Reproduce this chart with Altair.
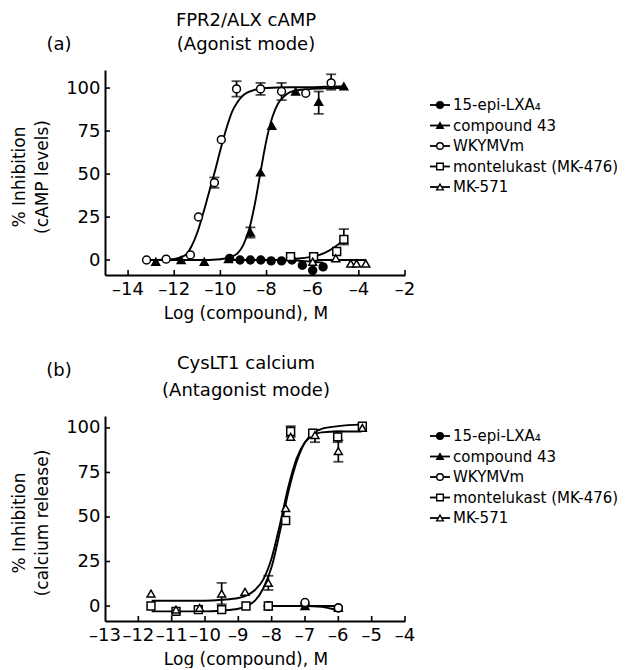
import altair as alt
import pandas as pd

FONT = "DejaVu Sans"
SERIES = ["15-epi-LXA₄", "compound 43", "WKYMVm", "montelukast (MK-476)", "MK-571"]
SHAPES = ["circle", "triangle-up", "circle", "square", "triangle-up"]
FILLS = ["black", "black", "white", "white", "white"]
Y_TICKS = [0, 25, 50, 75, 100]

# ---------------- panel (a): FPR2/ALX cAMP ----------------
A_XTICKS = [-14, -12, -10, -8, -6, -4, -2]
A_XDOM = [-15, -2]
A_YDOM = [-8.7, 110.5]

a_lxa_x = [-9.6, -9.15, -8.7, -8.25, -7.8, -7.35, -6.9, -6.45, -6.0, -5.55]
a_lxa_y = [1, 0, 0, 0, -0.5, -0.5, 0, -3, -6, -4]
a_c43_x = [-12.8, -11.7, -10.7, -9.65, -8.7, -8.26, -7.77, -6.74, -5.74, -4.65]
a_c43_y = [-1, 0, -1, 0.5, 16, 51, 78, 98, 92, 101]
a_wky_x = [-13.2, -12.35, -11.3, -10.95, -10.26, -9.96, -9.3, -8.26, -7.35, -6.3, -5.2]
a_wky_y = [0, 0.5, 3, 25, 45, 70, 99.5, 99.5, 98, 97, 103]
a_mon_x = [-6.96, -5.96, -4.96, -4.65]
a_mon_y = [2, 2, 5, 12]
a_mk_x = [-6.0, -5.0, -4.35, -4.1, -3.7]
a_mk_y = [-1, 1, -2, -2, -2]

# error bars (series, x, low, high)
a_err_s = ["WKYMVm", "WKYMVm", "WKYMVm", "WKYMVm", "WKYMVm", "compound 43", "compound 43", "montelukast (MK-476)"]
a_err_x = [-10.26, -9.3, -8.26, -7.35, -5.2, -8.7, -5.74, -4.65]
a_err_lo = [42, 95, 96, 93, 99, 13, 85, 9]
a_err_hi = [48, 104, 103, 103, 108, 19, 98, 18]

# fitted curves
a_cwky_x = [-13.2, -12.5, -12, -11.5, -11.25, -11, -10.75, -10.5, -10.25, -10, -9.75, -9.5, -9.25, -9, -8.5, -8, -7, -6, -5, -4.65]
a_cwky_y = [0, 0.2, 0.7, 3, 8, 16, 27, 39, 51, 64, 76, 86, 92, 96, 99, 100, 100.5, 100.5, 101, 101]
a_cc43_x = [-12.8, -12, -11, -10, -9.5, -9.25, -9, -8.75, -8.5, -8.25, -8, -7.75, -7.5, -7.25, -7, -6.5, -6, -5, -4.65]
a_cc43_y = [0, 0, 0, 0.5, 2, 4, 9, 18, 33, 52, 70, 83, 91, 95, 97.5, 99, 99.5, 100, 100]
a_clxa_x = [-9.6, -7.5, -6.5, -6.0, -5.55]
a_clxa_y = [0, 0, -0.5, -1, -1.5]
a_cmon_x = [-7.0, -6.5, -6.0, -5.5, -5.0, -4.65]
a_cmon_y = [0.5, 1, 2, 4, 8, 12]
a_cmk_x = [-6.0, -3.7]
a_cmk_y = [0, 0]

# ---------------- panel (b): CysLT1 calcium ----------------
B_XTICKS = [-13, -12, -11, -10, -9, -8, -7, -6, -5, -4]
B_XDOM = [-13, -4]
B_YDOM = [-8.4, 106.7]

b_lxa_x = [-8.1, -7.0, -6.0]
b_lxa_y = [0, 1, -1]
b_c43_x = [-8.1, -7.0, -6.0]
b_c43_y = [0, 0, -1]
b_wky_x = [-8.1, -7.0, -6.0]
b_wky_y = [0, 2, -1]
b_mon_x = [-11.62, -10.87, -10.2, -9.5, -8.77, -8.1, -7.58, -7.43, -6.77, -6.02, -5.28]
b_mon_y = [0, -3, -2, -2, 0, 0, 48, 98, 97, 95, 101]
b_mk_x = [-11.62, -10.87, -10.16, -9.5, -8.8, -8.1, -7.58, -7.43, -6.7, -6.0, -5.28]
b_mk_y = [7, -2, -1, 7, 8, 13, 55, 95, 96, 87, 100]

b_err_s = ["MK-571", "MK-571", "MK-571", "MK-571", "montelukast (MK-476)", "montelukast (MK-476)"]
b_err_x = [-9.5, -8.1, -6.7, -6.0, -7.43, -6.02]
b_err_lo = [1, 9, 92, 81, 95, 92]
b_err_hi = [13, 17, 99, 93, 101, 98]

b_cmk_x = [-11.6, -11, -10, -9.5, -9, -8.75, -8.5, -8.25, -8, -7.75, -7.5, -7.25, -7, -6.75, -6.5, -6, -5.3]
b_cmk_y = [3, 3, 3, 3.5, 4.5, 6, 9, 15, 27, 46, 67, 83, 92, 96, 97.5, 98, 98]
b_cmon_x = [-11.6, -11, -10, -9.5, -9, -8.75, -8.5, -8.25, -8, -7.75, -7.5, -7.25, -7, -6.75, -6.5, -6, -5.3]
b_cmon_y = [-3, -3, -3, -2.5, -1.5, 0, 3, 10, 22, 42, 64, 81, 92, 97, 99.5, 101, 102]
b_clxa_x = [-8.1, -7.5, -7.0, -6.5, -6.2, -6.0]
b_clxa_y = [0, 0, 0, -0.5, -1.5, -2.5]
b_cflat_x = [-8.1, -6.0]
b_cflat_y = [0, 0]


def pts_df(groups):
    rows = []
    for name, xs, ys in groups:
        for x, y in zip(xs, ys):
            rows.append({"series": name, "x": x, "y": y})
    return pd.DataFrame(rows)


def crv_df(groups):
    rows = []
    for cid, (xs, ys) in enumerate(groups):
        for x, y in zip(xs, ys):
            rows.append({"cid": cid, "x": x, "y": y})
    return pd.DataFrame(rows)


W, H = 300, 205
LW = 190
PT_SIZE = 62


def text_layer(txt, x, y, size, align="center", opacity=1, angle=0):
    return alt.Chart(pd.DataFrame({"t": [txt]})).mark_text(
        font=FONT, fontSize=size, align=align, baseline="middle", color="black",
        opacity=opacity, angle=angle
    ).encode(text="t:N", x=alt.value(x), y=alt.value(y))


def panel(pts, err, crv, xdom, ydom, xticks, titles, tag, t1y, t2y, tag_y, ytitle, leg_top):
    xs = alt.Scale(domain=xdom, nice=False, zero=False)
    ys = alt.Scale(domain=ydom, nice=False, zero=False)
    xaxis = alt.Axis(values=xticks, labels=False, title=None, tickSize=0, ticks=False)
    yaxis = alt.Axis(values=Y_TICKS, format="d", title=None, labelPadding=5, tickSize=0, ticks=False)

    shape = alt.Shape("series:N", scale=alt.Scale(domain=SERIES, range=SHAPES), legend=None)
    fill = alt.Fill("series:N", scale=alt.Scale(domain=SERIES, range=FILLS), legend=None)

    curves = alt.Chart(crv).mark_line(color="black", strokeWidth=1.9, interpolate="monotone").encode(
        x=alt.X("x:Q", scale=xs, axis=xaxis), y=alt.Y("y:Q", scale=ys, axis=yaxis), detail="cid:N")
    bars = alt.Chart(err).mark_rule(color="black", strokeWidth=1.7).encode(
        x=alt.X("x:Q"), y=alt.Y("lo:Q"), y2="hi:Q")
    cap_lo = alt.Chart(err).mark_tick(color="black", orient="horizontal", size=10, thickness=1.8).encode(
        x=alt.X("x:Q"), y=alt.Y("lo:Q"))
    cap_hi = alt.Chart(err).mark_tick(color="black", orient="horizontal", size=10, thickness=1.8).encode(
        x=alt.X("x:Q"), y=alt.Y("hi:Q"))
    points = alt.Chart(pts).mark_point(filled=True, size=PT_SIZE, stroke="black", strokeWidth=1.5, opacity=1).encode(
        x=alt.X("x:Q"), y=alt.Y("y:Q"), shape=shape, fill=fill)

    tick_df = pd.DataFrame({"x": xticks})
    xt = alt.Chart(tick_df[tick_df["x"] > xdom[0]]).mark_rule(
        color="black", strokeWidth=1.6).encode(x=alt.X("x:Q"), y=alt.value(H - 5), y2=alt.value(H))
    yt = alt.Chart(pd.DataFrame({"y": Y_TICKS})).mark_rule(
        color="black", strokeWidth=1.6).encode(y=alt.Y("y:Q"), x=alt.value(0), x2=alt.value(5))
    # x tick labels, en-dash minus as in the figure
    xl = alt.Chart(tick_df).transform_calculate(
        lab="(datum.x < 0 ? '–' : '') + format(abs(datum.x), 'd')"
    ).mark_text(font=FONT, fontSize=18, baseline="middle", align="center", color="black").encode(
        x=alt.X("x:Q"), y=alt.value(H + 15), text="lab:N")

    plot = alt.layer(
        curves, bars, cap_lo, cap_hi, points, xt, yt, xl,
        text_layer("Log (compound), M", 141, H + 39, 17),
        text_layer(ytitle[0], -85, 107, 17, angle=270),
        text_layer(ytitle[1], -62, 107, 17, angle=270),
        text_layer(titles[0], 141, t1y, 18),
        text_layer(titles[1], 141, t2y, 18),
        text_layer(tag, -46, tag_y, 18),
    ).properties(width=W, height=H)

    leg = pd.DataFrame({"series": SERIES})
    ly = alt.Y("series:N", sort=SERIES, axis=None,
               scale=alt.Scale(type="point", domain=SERIES, range=[leg_top, leg_top + 82], padding=0))
    l_rule = alt.Chart(leg).mark_rule(color="black", strokeWidth=1.8).encode(
        y=ly, x=alt.value(14), x2=alt.value(34))
    l_pt = alt.Chart(leg).mark_point(filled=True, size=44, stroke="black", strokeWidth=1.4, opacity=1).encode(
        y=ly, x=alt.value(24), shape=shape, fill=fill)
    l_txt = alt.Chart(leg).mark_text(font=FONT, fontSize=15, align="left", baseline="middle", color="black").encode(
        y=ly, x=alt.value(37), text="series:N")
    # invisible copy of the panel title so that both cells share the same top edge
    spacer = text_layer(titles[0], 0, t1y, 18, align="left", opacity=0)
    legend = alt.layer(l_rule, l_pt, l_txt, spacer).properties(width=LW, height=H)

    return alt.hconcat(plot, legend, spacing=0)


pa = pts_df([(SERIES[0], a_lxa_x, a_lxa_y), (SERIES[1], a_c43_x, a_c43_y), (SERIES[2], a_wky_x, a_wky_y),
             (SERIES[3], a_mon_x, a_mon_y), (SERIES[4], a_mk_x, a_mk_y)])
ea = pd.DataFrame({"series": a_err_s, "x": a_err_x, "lo": a_err_lo, "hi": a_err_hi})
ca = crv_df([(a_cwky_x, a_cwky_y), (a_cc43_x, a_cc43_y), (a_clxa_x, a_clxa_y), (a_cmon_x, a_cmon_y), (a_cmk_x, a_cmk_y)])

pb = pts_df([(SERIES[0], b_lxa_x, b_lxa_y), (SERIES[1], b_c43_x, b_c43_y), (SERIES[2], b_wky_x, b_wky_y),
             (SERIES[3], b_mon_x, b_mon_y), (SERIES[4], b_mk_x, b_mk_y)])
eb = pd.DataFrame({"series": b_err_s, "x": b_err_x, "lo": b_err_lo, "hi": b_err_hi})
cb = crv_df([(b_cmk_x, b_cmk_y), (b_cmon_x, b_cmon_y), (b_clxa_x, b_clxa_y), (b_cflat_x, b_cflat_y)])

panel_a = panel(pa, ea, ca, A_XDOM, A_YDOM, A_XTICKS, ["FPR2/ALX cAMP", "(Agonist mode)"], "(a)",
                -49, -25, -25, ["% Inhibition", "(cAMP levels)"], 35)
panel_b = panel(pb, eb, cb, B_XDOM, B_YDOM, B_XTICKS, ["CysLT1 calcium", "(Antagonist mode)"], "(b)",
                -52, -25, -45, ["% Inhibition", "(calcium release)"], 20)

chart = alt.vconcat(panel_a, panel_b, spacing=33).properties(
    padding={"left": 3, "top": 4, "right": 0, "bottom": 0}
).configure_view(
    stroke=None
).configure_axis(
    labelFont=FONT, labelFontSize=18, labelColor="black",
    domainColor="black", domainWidth=2, grid=False
)

chart.save("out.html", embed_options={"renderer": "svg", "actions": False})
